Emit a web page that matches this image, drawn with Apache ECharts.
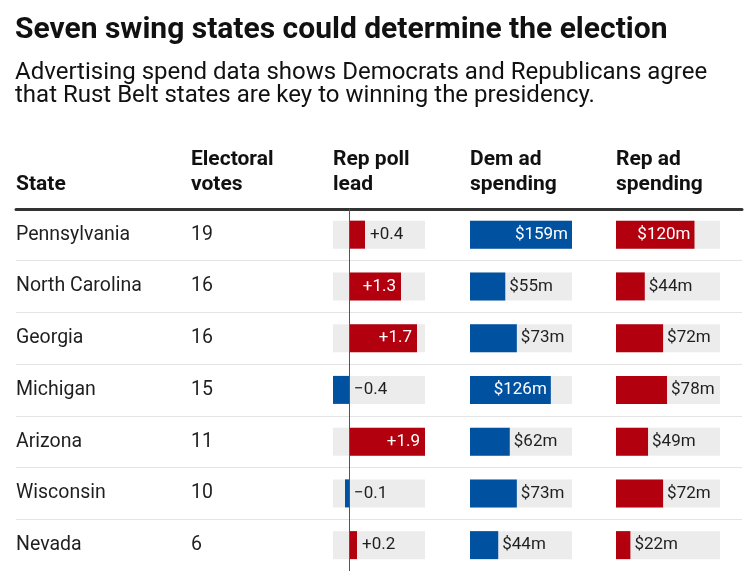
<!DOCTYPE html>
<html>
<head>
<meta charset="utf-8">
<script src="https://cdn.jsdelivr.net/npm/echarts@6/dist/echarts.min.js"></script>
<style>html,body{margin:0;padding:0;background:#fff}#c{width:754px;height:581px}</style>
</head>
<body>
<div id="c"></div>
<script>
const states = ['Pennsylvania','North Carolina','Georgia','Michigan','Arizona','Wisconsin','Nevada'];
const electoralVotes = [19,16,16,15,11,10,6];
const repPollLead = [0.4,1.3,1.7,-0.4,1.9,-0.1,0.2];
const demAdSpend = [159,55,73,126,62,73,44];
const repAdSpend = [120,44,72,78,49,72,22];
const headers = [['State'],['Electoral','votes'],['Rep poll','lead'],['Dem ad','spending'],['Rep ad','spending']];
const title = 'Seven swing states could determine the election';
const subtitle = 'Advertising spend data shows Democrats and Republicans agree\nthat Rust Belt states are key to winning the presidency.';

const RED = '#b3000f', BLUE = '#0052a1', TRACK = '#ececec', DARK = '#1f1f1f';
const FONT = 'Roboto';
const TOP = 208.8, H = 362.2;
const spendMax = Math.max(...demAdSpend, ...repAdSpend);

const fmtLead = v => (v < 0 ? '\u2212' : '+') + Math.abs(v).toFixed(1);
const leadData = repPollLead.map(v => {
  const inside = v >= 1;
  return {
    value: v,
    itemStyle: {color: v < 0 ? BLUE : RED},
    label: {show: true, position: inside ? 'insideRight' : 'right', distance: 5,
      color: inside ? '#fff' : DARK, formatter: () => fmtLead(v)}
  };
});
const spendData = (arr, color) => arr.map(v => {
  const inside = v >= 100;
  return {
    value: v,
    itemStyle: {color},
    label: {show: true, position: inside ? 'insideRight' : 'right', distance: inside ? 4 : 4,
      color: inside ? '#fff' : DARK, formatter: () => '$' + v + 'm'}
  };
});

const colX = [16, 191, 333, 470, 616];
const graphics = [];
headers.forEach((lines, i) => {
  const ys = lines.length === 1 ? [174] : [149, 174];
  lines.forEach((t, j) => graphics.push({type: 'text', left: colX[i], top: ys[j],
    style: {text: t, font: 'bold 21px ' + FONT, fill: '#111'}}));
});

const hiddenX = (min, max, idx) => ({type: 'value', gridIndex: idx, min, max, show: false});
const catY = (idx) => ({type: 'category', gridIndex: idx, data: states, inverse: true, show: false});

const chart = echarts.init(document.getElementById('c'), null, {renderer: 'canvas'});
chart.setOption({
  animation: false,
  textStyle: {fontFamily: FONT},
  title: [
    {text: title, left: 10, top: 10, textStyle: {fontFamily: FONT, fontSize: 30, fontWeight: 'bold', color: '#111'}},
    {text: subtitle, left: 10, top: 56, textStyle: {fontFamily: FONT, fontSize: 24, fontWeight: 'normal', color: '#111', lineHeight: 23}}
  ],
  graphic: graphics,
  grid: [
    {left: 16, right: 12, top: TOP, height: H},
    {left: 333, width: 92, top: TOP, height: H},
    {left: 470, width: 102, top: TOP, height: H},
    {left: 616, width: 104, top: TOP, height: H}
  ],
  xAxis: [
    {type: 'value', gridIndex: 0, min: 0, max: 1, position: 'top',
      axisLine: {show: true, lineStyle: {color: '#333', width: 3}}, axisTick: {show: false},
      axisLabel: {show: false}, splitLine: {show: false}},
    hiddenX(Math.min(...repPollLead), Math.max(...repPollLead), 1),
    hiddenX(0, spendMax, 2),
    hiddenX(0, spendMax, 3)
  ],
  yAxis: [
    {type: 'value', gridIndex: 0, min: 0, max: states.length, inverse: true, show: false},
    {type: 'category', gridIndex: 1, data: states, inverse: true,
      axisLine: {show: false}, axisTick: {show: false},
      axisLabel: {align: 'left', margin: 333 - 16, color: DARK, fontSize: 19.5, fontFamily: FONT,
        formatter: (v, i) => '{s|' + v + '}{e|' + electoralVotes[i] + '}',
        rich: {s: {width: 175, fontSize: 19.5, color: DARK, fontFamily: FONT}, e: {fontSize: 19.5, color: DARK, fontFamily: FONT}}}},
    catY(2), catY(3)
  ],
  series: [
    {type: 'line', xAxisIndex: 0, yAxisIndex: 0, data: [[0, 0]], symbol: 'none', lineStyle: {opacity: 0}, silent: true,
      markLine: {silent: true, symbol: 'none', label: {show: false},
        lineStyle: {color: '#e4e4e4', width: 1, type: 'solid'},
        data: states.slice(1).map((s, i) => ({yAxis: i + 1}))}},
    {type: 'bar', xAxisIndex: 1, yAxisIndex: 1, data: leadData, barWidth: 28,
      showBackground: true, backgroundStyle: {color: TRACK},
      label: {fontSize: 17, fontFamily: FONT},
      markLine: {silent: true, symbol: 'none', label: {show: false},
        lineStyle: {color: '#555', width: 1, type: 'solid'}, data: [{xAxis: 0}]}},
    {type: 'bar', xAxisIndex: 2, yAxisIndex: 2, data: spendData(demAdSpend, BLUE), barWidth: 28,
      showBackground: true, backgroundStyle: {color: TRACK}, label: {fontSize: 17, fontFamily: FONT}},
    {type: 'bar', xAxisIndex: 3, yAxisIndex: 3, data: spendData(repAdSpend, RED), barWidth: 28,
      showBackground: true, backgroundStyle: {color: TRACK}, label: {fontSize: 17, fontFamily: FONT}}
  ]
});
</script>
</body>
</html>
